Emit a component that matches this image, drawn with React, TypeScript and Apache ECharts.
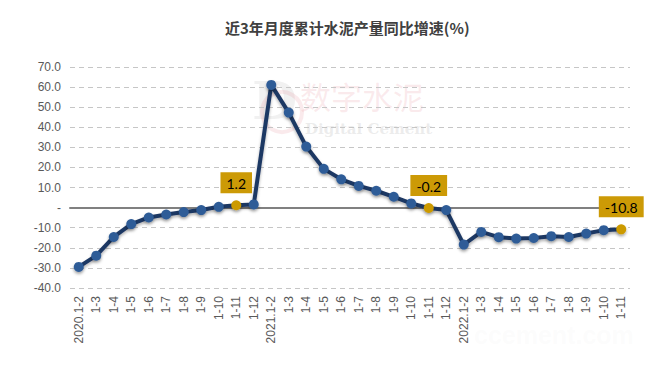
import React, { useEffect, useRef } from "react";
import * as echarts from "echarts";

const categories2020 = ["2020.1-2", "1-3", "1-4", "1-5", "1-6", "1-7", "1-8", "1-9", "1-10", "1-11", "1-12"];
const categories2021 = ["2021.1-2", "1-3", "1-4", "1-5", "1-6", "1-7", "1-8", "1-9", "1-10", "1-11", "1-12"];
const categories2022 = ["2022.1-2", "1-3", "1-4", "1-5", "1-6", "1-7", "1-8", "1-9", "1-10", "1-11"];

const values2020 = [-29.5, -23.9, -14.6, -8.2, -4.9, -3.4, -2.2, -1.2, 0.4, 1.2, 1.6];
const values2021 = [61.1, 47.3, 30.4, 19.3, 14.1, 10.8, 8.4, 5.4, 2.1, -0.2, -1.2];
const values2022 = [-18.4, -12.1, -14.7, -15.4, -15.1, -14.2, -14.6, -12.9, -11.2, -10.8];

const labelledIndices = [9, 20, 31];

const yTicks = { min: -40, max: 70, interval: 10 };

const TITLE = "近3年月度累计水泥产量同比增速(%)";

export default function App() {
  const ref = useRef<HTMLDivElement>(null);

  useEffect(() => {
    if (!ref.current) return;
    const chart = echarts.init(ref.current, undefined, { renderer: "svg" });
    const categories = [...categories2020, ...categories2021, ...categories2022];
    const values = [...values2020, ...values2021, ...values2022];
    const gold = "#cc9a06";
    const data = values.map((v, i) =>
      labelledIndices.includes(i)
        ? {
            value: v,
            itemStyle: { color: gold },
            label: {
              show: true,
              position: "top",
              distance: 7,
              backgroundColor: gold,
              color: "#000",
              fontFamily: "Lato, 'Liberation Sans', sans-serif",
              fontSize: 14,
              padding: [4, 6, 3, 6],
              formatter: (p: any) => String(p.value),
            },
          }
        : v
    );

    chart.setOption({
      animation: false,
      backgroundColor: "#ffffff",
      title: {
        text: TITLE,
        left: 220,
        top: 15,
        textStyle: {
          fontSize: 15,
          fontWeight: "bold",
          color: "#404040",
          fontFamily: "'Noto Sans CJK SC', sans-serif",
        },
      },
      graphic: [
        {
          type: "text",
          left: 252,
          top: 74,
          z: 0,
          style: {
            text: "D",
            font: "bold 52px 'DejaVu Serif', serif",
            fill: "rgba(190,190,190,0.22)",
          },
        },
        {
          type: "circle",
          shape: { cx: 282, cy: 112, r: 20 },
          z: 0,
          style: { fill: "none", stroke: "rgba(230,150,160,0.2)", lineWidth: 4 },
        },
        {
          type: "text",
          left: 300,
          top: 80,
          z: 0,
          style: {
            text: "数字水泥",
            font: "31px 'Noto Sans CJK SC', sans-serif",
            fill: "rgba(235,160,170,0.22)",
          },
        },
        {
          type: "text",
          left: 305,
          top: 121,
          z: 0,
          style: {
            text: "Digital Cement",
            font: "bold 15px 'DejaVu Serif', serif",
            fill: "rgba(190,190,190,0.28)",
          },
        },
        {
          type: "text",
          left: 474,
          top: 322,
          z: 0,
          style: {
            text: "ccement.com",
            font: "bold 25px 'Liberation Sans', sans-serif",
            fill: "rgba(215,215,215,0.08)",
          },
        },
      ],
      grid: { left: 70, right: 24, top: 67, bottom: 85, containLabel: false },
      xAxis: [
        {
          type: "category",
          data: categories,
          boundaryGap: true,
          axisLine: { show: false, onZero: false },
          axisTick: { show: false },
          axisLabel: {
            interval: 0,
            rotate: 90,
            margin: 8,
            color: "#595959",
            fontSize: 12,
            fontFamily: "'Liberation Sans', Arial, sans-serif",
          },
          splitLine: { show: false },
        },
        {
          type: "category",
          data: categories,
          position: "top",
          boundaryGap: true,
          axisLine: { show: true, onZero: true, lineStyle: { color: "#808080", width: 2 } },
          axisTick: { show: false },
          axisLabel: { show: false },
          splitLine: { show: false },
        },
      ],
      yAxis: {
        type: "value",
        min: yTicks.min,
        max: yTicks.max,
        interval: yTicks.interval,
        axisLine: { show: false },
        axisTick: { show: false },
        axisLabel: {
          margin: 9,
          color: "#595959",
          fontSize: 12,
          fontFamily: "'Liberation Sans', Arial, sans-serif",
          formatter: (v: number) => (v === 0 ? "-" : v.toFixed(1)),
        },
        splitLine: {
          show: true,
          lineStyle: { color: "#c6c6c6", type: [5, 4], width: 1 },
        },
      },
      series: [
        {
          type: "line",
          data,
          xAxisIndex: 0,
          z: 3,
          symbol: "circle",
          symbolSize: 10,
          lineStyle: {
            color: "#1f3864",
            width: 4,
            shadowColor: "rgba(0,0,0,0.3)",
            shadowBlur: 3,
            shadowOffsetY: 2,
          },
          itemStyle: {
            color: "#2f5c97",
            borderWidth: 0,
            shadowColor: "rgba(0,0,0,0.35)",
            shadowBlur: 3,
            shadowOffsetY: 2,
          },
          label: { show: false },
        },
      ],
    });
    return () => chart.dispose();
  }, []);

  return <div ref={ref} style={{ width: 654, height: 373, margin: -8 }} />;
}
